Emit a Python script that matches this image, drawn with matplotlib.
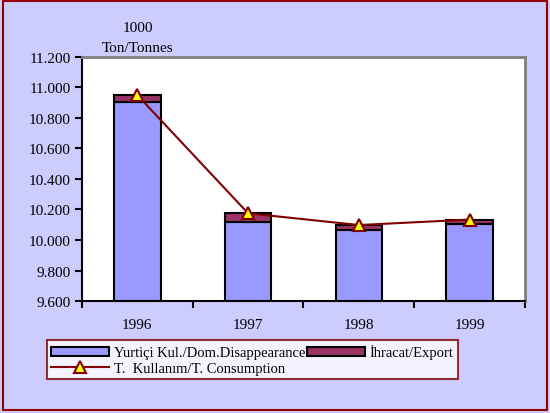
import matplotlib.pyplot as plt
from matplotlib.patches import Rectangle
from matplotlib.ticker import FuncFormatter, FixedLocator

# 1000 tonnes
years = ["1996", "1997", "1998", "1999"]
domestic = [10905, 10120, 10068, 10104]
export = [45, 55, 30, 30]
consumption = [d + e for d, e in zip(domestic, export)]

bg = "#CCCCFF"
dark_red = "#800000"

plt.rcParams["font.family"] = ["Liberation Serif", "DejaVu Serif"]
plt.rcParams["font.size"] = 11

fig = plt.figure(figsize=(5.5, 4.14), dpi=100, facecolor=bg)
fig.patches.append(Rectangle((0.006, 0.008), 0.988, 0.988, transform=fig.transFigure,
                             fill=False, edgecolor="#990000", linewidth=1.5, zorder=10))

ax = fig.add_axes([0.149, 0.2705, 0.8055, 0.5895])
x = list(range(len(years)))
dom_bars = ax.bar(x, domestic, width=0.42, color="#9999FF", edgecolor="black", linewidth=1.5,
                  label="Yurtiçi Kul./Dom.Disappearance", zorder=2)
exp_bars = ax.bar(x, export, width=0.42, bottom=domestic, color="#993366", edgecolor="black",
                  linewidth=1.5, label="İhracat/Export", zorder=2)
line, = ax.plot(x, consumption, color=dark_red, linewidth=1.5, marker="^", markersize=9,
                markerfacecolor="#FFFF00", markeredgecolor=dark_red, markeredgewidth=1.5,
                label="T.  Kullanım/T. Consumption", zorder=3)

ax.set_xlim(-0.5, 3.5)
ax.set_ylim(9600, 11200)
ax.set_yticks(range(9600, 11201, 200))
ax.yaxis.set_major_formatter(FuncFormatter(lambda v, p: f"{v:,.0f}".replace(",", ".")))
ax.set_xticks(x)
ax.set_xticklabels(years)
ax.xaxis.set_minor_locator(FixedLocator([-0.5, 0.5, 1.5, 2.5, 3.5]))
ax.tick_params(axis="x", which="major", length=0, pad=12)
ax.tick_params(axis="x", which="minor", length=5, width=1.5, direction="out")
ax.tick_params(axis="y", length=5, width=1.5, direction="out", pad=3)

for s in ("top", "right"):
    ax.spines[s].set_color("#808080")
    ax.spines[s].set_linewidth(2)
for s in ("left", "bottom"):
    ax.spines[s].set_color("black")
    ax.spines[s].set_linewidth(1.5)

fig.text(0.251, 0.93, "1000", ha="center", va="center")
fig.text(0.251, 0.884, "Ton/Tonnes", ha="center", va="center")

leg = fig.legend([dom_bars, line, exp_bars],
                 [dom_bars.get_label(), line.get_label(), exp_bars.get_label()],
                 ncol=2, loc="lower left", bbox_to_anchor=(0.085, 0.082), frameon=True,
                 fancybox=False, edgecolor=dark_red, facecolor="white", fontsize=10.5,
                 handlelength=4.0, handleheight=0.6, handletextpad=0.3, columnspacing=0.1,
                 labelspacing=0.15, borderpad=0.3, borderaxespad=0)
leg.get_frame().set_linewidth(1.5)

fig.savefig("out.png", dpi=100, facecolor=bg)
